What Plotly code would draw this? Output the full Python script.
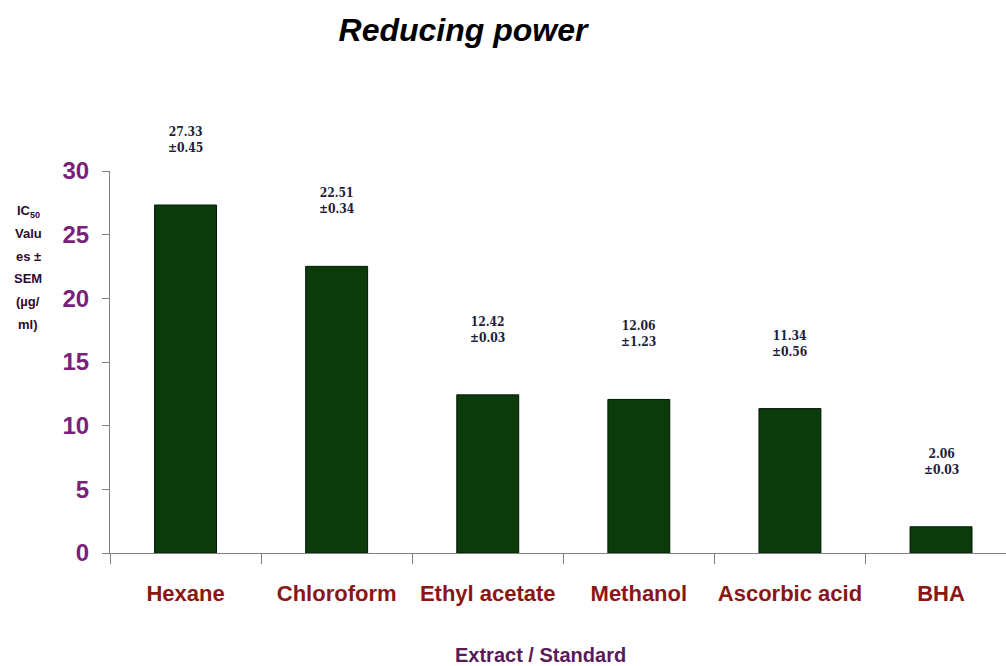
import plotly.graph_objects as go

# IC50 values (µg/ml) for the reducing power assay
categories = ["Hexane", "Chloroform", "Ethyl acetate", "Methanol", "Ascorbic acid", "BHA"]
ic50 = [27.33, 22.51, 12.42, 12.06, 11.34, 2.06]
sem = [0.45, 0.34, 0.03, 1.23, 0.56, 0.03]
y_ticks = [0, 5, 10, 15, 20, 25, 30]
y_caption = ["IC<sub>50</sub>", "Valu", "es ±", "SEM", "(µg/", "ml)"]

BAR = "#0b3a0b"
PURPLE = "#7a1f7a"
DARKRED = "#8a1616"
LABEL = "#1c1c3c"
SANS = "Liberation Sans, Arial, sans-serif"

# plot area in pixels
W, H = 1006, 666
L, R, T, B = 110, 0, 171, 113
PW, PH = W - L - R, H - T - B

fig = go.Figure()
fig.add_trace(go.Bar(
    x=categories,
    y=ic50,
    width=0.41,
    marker=dict(color=BAR, line=dict(color="#041a04", width=1)),
    hoverinfo="x+y",
))

# value ± SEM labels above each bar
for cat, v, s in zip(categories, ic50, sem):
    fig.add_annotation(
        x=cat, y=v, xref="x", yref="y",
        text=f"<b>{v:.2f}<br>±{s:.2f}</b>",
        showarrow=False, yanchor="bottom", yshift=48,
        font=dict(family="DejaVu Serif Condensed, DejaVu Serif, serif", size=12, color=LABEL),
        align="center",
    )

# y-axis caption, wrapped into a narrow column
for i, line in enumerate(y_caption):
    fig.add_annotation(
        x=(28 - L) / PW, y=(H - B - (211 + 22.6 * i)) / PH,
        xref="paper", yref="paper",
        text=f"<b>{line}</b>",
        showarrow=False, xanchor="center", yanchor="middle",
        font=dict(family=SANS, size=13, color="#2e0a2e"),
    )

# x-axis caption
fig.add_annotation(
    x=(540 - L) / PW, y=(H - B - 655) / PH, xref="paper", yref="paper",
    text="<b>Extract / Standard</b>",
    showarrow=False, xanchor="center", yanchor="middle",
    font=dict(family=SANS, size=20, color="#5a1a5a"),
)

fig.update_layout(
    width=W, height=H,
    margin=dict(l=L, r=R, t=T, b=B),
    paper_bgcolor="white", plot_bgcolor="white",
    showlegend=False,
    title=dict(
        text="<b><i>Reducing power</i></b>",
        x=463 / W, xanchor="center", y=1 - 30 / H, yanchor="middle",
        font=dict(family=SANS, size=32, color="black"),
    ),
    xaxis=dict(
        range=[-0.5, 5.43],
        showline=True, linecolor="#808080", linewidth=1,
        ticks="outside", ticklen=10, tickcolor="#808080", tickson="boundaries",
        showgrid=False, zeroline=False,
        tickangle=0, automargin=False,
        tickfont=dict(family=SANS, size=22, color=DARKRED, weight="bold"),
        ticklabelstandoff=21,
    ),
    yaxis=dict(
        range=[0, 30],
        tickvals=y_ticks,
        automargin=False,
        showline=True, linecolor="#808080", linewidth=1,
        ticks="outside", ticklen=7, tickcolor="#808080",
        showgrid=False, zeroline=False,
        tickfont=dict(family=SANS, size=24, color=PURPLE, weight="bold"),
        ticklabelstandoff=8,
    ),
)

fig.write_html("out.html")
